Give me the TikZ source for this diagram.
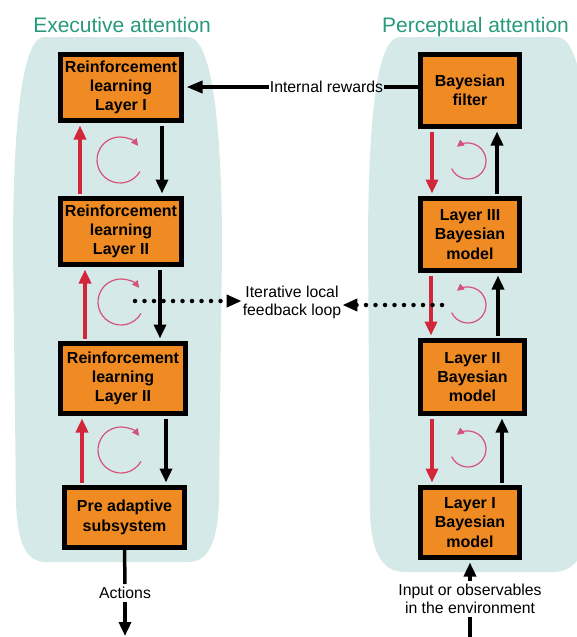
\documentclass[tikz,border=0pt]{standalone}
\usepackage{fontspec}
\setmainfont{Liberation Sans}
\usetikzlibrary{arrows.meta}
\definecolor{blob}{RGB}{213,233,232}
\definecolor{boxorange}{RGB}{239,139,34}
\definecolor{titlegreen}{RGB}{40,154,122}
\definecolor{arrred}{RGB}{210,38,58}
\definecolor{pinkc}{RGB}{214,82,122}
\tikzset{
  box/.style={draw=black, line width=5pt, fill=boxorange, inner sep=0pt, align=center,
    font=\bfseries\fontsize{16}{19.3}\selectfont},
  arr/.style={line width=3.5pt, -{Triangle[length=14pt,width=12pt]}, shorten <=2.5pt, shorten >=2.5pt},
  blk/.style={arr, draw=black},
  redarr/.style={arr, draw=arrred},
  loopy/.style={draw=pinkc, line width=1.2pt, -{Triangle[length=7pt,width=7pt]}},
  dots/.style={line width=4.5pt, line cap=round, dash pattern=on 0pt off 9.5pt,
    -{Triangle[length=15pt,width=12pt]}},
  lbl/.style={font=\fontsize{15.8}{18.5}\selectfont, align=center, inner sep=1pt},
  ttl/.style={font=\fontsize{21}{25}\selectfont, text=titlegreen, anchor=base, inner sep=0pt}
}
\begin{document}
\begin{tikzpicture}[x=1pt, y=-1pt]
\useasboundingbox (0,0) rectangle (577,637);
% backgrounds
\begin{scope}
\clip (0,0) rectangle (577,637);
\fill[blob] (46,562) -- (188,562) .. controls (207,562) and (218,545) .. (219,500)
  -- (222,250) .. controls (222,112) and (210,37) .. (188,37) -- (44,37)
  .. controls (24,37) and (13,112) .. (13,250) -- (16,500)
  .. controls (17,545) and (27,562) .. (46,562) -- cycle;
\fill[blob] (405,572) -- (553,572) .. controls (575,572) and (588,555) .. (589,510)
  -- (591,250) .. controls (591,110) and (580,37) .. (557,37) -- (400,37)
  .. controls (378,37) and (368,110) .. (368,250) -- (370,510)
  .. controls (371,555) and (383,572) .. (405,572) -- cycle;
\end{scope}
% titles
\node[ttl] (t1) at (122,32) {Executive attention};
\node[ttl] (t2) at (475.5,32) {Perceptual attention};
% left column
\node[box, minimum width=121pt, minimum height=66pt] (b1) at (121,87.5) {Reinforcement\\learning\\Layer I};
\node[box, minimum width=121pt, minimum height=66pt] (b2) at (121,231.5) {Reinforcement\\learning\\Layer II};
\node[box, minimum width=125pt, minimum height=70pt] (b3) at (123,378.5) {Reinforcement\\learning\\Layer II};
\node[box, minimum width=120pt, minimum height=60pt] (b4) at (124.5,517.5) {Pre adaptive\\subsystem};
% right column
\node[box, minimum width=99pt, minimum height=72pt] (f) at (470,90.5) {Bayesian\\filter};
\node[box, minimum width=99pt, minimum height=72pt] (l3) at (470,234.5) {Layer III\\Bayesian\\model};
\node[box, minimum width=104pt, minimum height=73pt] (l2) at (472.5,377) {Layer II\\Bayesian\\model};
\node[box, minimum width=99pt, minimum height=70pt] (l1) at (470,522.5) {Layer I\\Bayesian\\model};
% labels
\node[lbl] (rew) at (326.5,87) {Internal rewards};
\node[lbl] (loop) at (292,302.5) {Iterative local\\feedback loop};
\node[lbl, inner ysep=3pt] (act) at (125,593) {Actions};
\node[lbl, inner ysep=3pt] (inp) at (470,599) {Input or observables\\in the environment};
\coordinate (actend) at (125,636);
\coordinate (instart) at (470,637);
\coordinate (dl) at (135,301);
\coordinate (dr) at (442,305);
% left vertical arrows
\draw[blk] (b1.south -| 162,0) -- (b2.north -| 162,0);
\draw[redarr] (b2.north -| 80,0) -- (b1.south -| 80,0);
\draw[blk] (b2.south -| 160,0) -- (b3.north -| 160,0);
\draw[redarr] (b3.north -| 85,0) -- (b2.south -| 85,0);
\draw[blk] (b3.south -| 166,0) -- (b4.north -| 166,0);
\draw[redarr] (b4.north -| 82,0) -- (b3.south -| 82,0);
% right vertical arrows
\draw[redarr] (f.south -| 432,0) -- (l3.north -| 432,0);
\draw[blk] (l3.north -| 497,0) -- (f.south -| 497,0);
\draw[redarr] (l3.south -| 431,0) -- (l2.north -| 431,0);
\draw[blk] (l2.north -| 498,0) -- (l3.south -| 498,0);
\draw[redarr] (l2.south -| 432,0) -- (l1.north -| 432,0);
\draw[blk] (l1.north -| 502,0) -- (l2.south -| 502,0);
% internal rewards
\draw[blk, shorten <=0pt, -{Triangle[length=16pt,width=12pt]}] (rew.west) -- (rew.west -| b1.east);
\draw[line width=3.5pt] (rew.east) -- (rew.east -| f.west);
% actions and input
\draw[line width=3.5pt] (b4.south) -- (act.north);
\draw[blk, shorten <=0pt, shorten >=0pt] (act.south) -- (actend);
\draw[line width=3.5pt] (instart) -- (inp.south);
\draw[blk, shorten <=0pt] (inp.north) -- (l1.south);
% dotted feedback arrows
\draw[dots] (dl) -- (dl -| loop.west);
\draw[dots] (dr) -- (dr -| loop.east);
% loop arcs
\draw[loopy] (120,160) ++(30:23) arc[start angle=30, end angle=322, radius=23];
\draw[loopy] (121,302) ++(30:23) arc[start angle=30, end angle=322, radius=23];
\draw[loopy] (121,450) ++(30:23) arc[start angle=30, end angle=322, radius=23];
\draw[loopy] (468,161) ++(155:18) arc[start angle=155, end angle=-128, radius=18];
\draw[loopy] (468,305) ++(155:18) arc[start angle=155, end angle=-128, radius=18];
\draw[loopy] (468,449) ++(155:18) arc[start angle=155, end angle=-128, radius=18];
\end{tikzpicture}
\end{document}
